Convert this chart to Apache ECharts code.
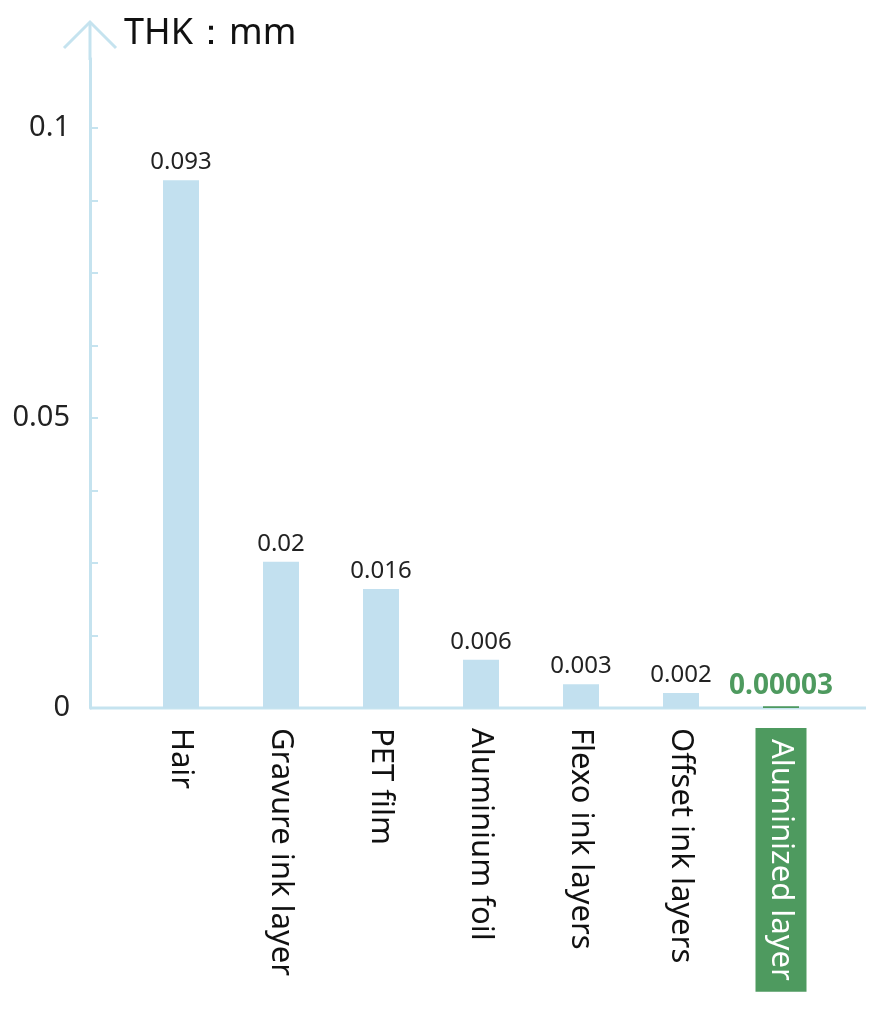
<!DOCTYPE html><html><head><meta charset="utf-8"><script src="https://cdn.jsdelivr.net/npm/echarts@6/dist/echarts.min.js"></script></head><body style="margin:0"><div id="c" style="width:884px;height:1019px"></div><script>
const categories=['Hair','Gravure ink layer','PET film','Aluminium foil','Flexo ink layers','Offset ink layers','Aluminized layer'];
const values=[0.091,0.0252,0.0205,0.0083,0.0041,0.0026,0.0003];
const labelTexts=['0.093','0.02','0.016','0.006','0.003','0.002','0.00003'];
const axisColor='#c5e3ef';
const ch=echarts.init(document.getElementById('c'));
ch.setOption({
 animation:false,
 grid:{left:131,width:700,top:58.4,bottom:311},
 graphic:[
  {type:'line',shape:{x1:90,y1:708,x2:866,y2:708},style:{stroke:axisColor,lineWidth:3}},
  {type:'line',shape:{x1:90,y1:22,x2:90,y2:60},style:{stroke:axisColor,lineWidth:3}},
  {type:'polyline',shape:{points:[[64,48],[90,22],[116,48]]},style:{stroke:axisColor,lineWidth:3,fill:null}},
  {type:'text',left:124,top:16,style:{text:'THK：mm',font:'36px "Noto Sans"',fill:'#111'}}
 ],
 xAxis:{type:'category',data:categories,axisLine:{show:false},axisTick:{show:false},
  axisLabel:{rotate:-90,interval:0,margin:20,fontSize:31,fontFamily:'Noto Sans',color:'#111',
   formatter:(v,i)=>i===6?'{g|'+v+'}':v,
   rich:{g:{backgroundColor:'#4e9a5f',color:'#fff',fontSize:31,padding:[10,11,10,11]}}}},
 yAxis:{type:'value',min:0,max:0.112,interval:0.0125,offset:41,
  axisLine:{show:true,lineStyle:{color:axisColor,width:3}},
  axisTick:{show:true,length:8,inside:true,lineStyle:{color:axisColor,width:2}},
  splitLine:{show:false},
  axisLabel:{showMaxLabel:false,margin:20,fontSize:29,fontFamily:'Noto Sans',color:'#222',
   formatter:v=>{const r=Math.round(v*10000);return r%500===0?(r===0?'0':String(+(v.toFixed(2)))):'';}}},
 series:[{type:'bar',barWidth:36,itemStyle:{color:'#c2e0ef'},
  data:values.map((v,i)=>i===6?{value:v,itemStyle:{color:'#4e9a5f'}}:v),
  label:{show:true,position:'top',distance:6,fontSize:24,fontFamily:'Noto Sans',color:'#222',
   formatter:p=>p.dataIndex===6?'{g|'+labelTexts[6]+'}':labelTexts[p.dataIndex],
   rich:{g:{color:'#4e9a5f',fontSize:28,fontWeight:'bold'}}}}]
});
</script></body></html>
